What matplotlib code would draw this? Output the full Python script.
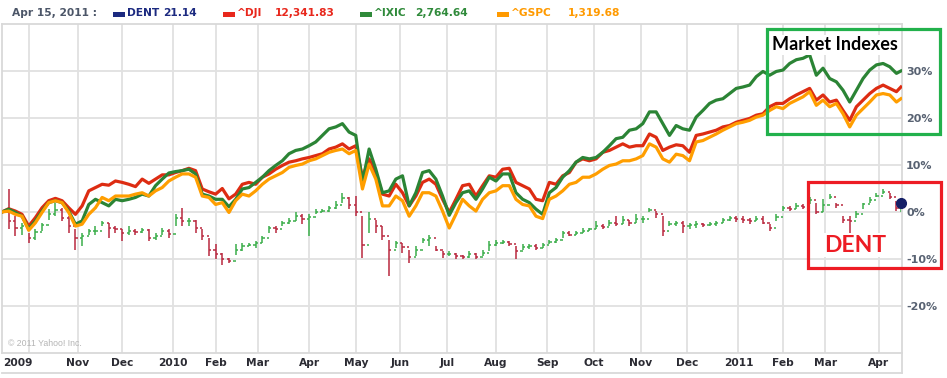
import matplotlib
matplotlib.use('Agg')
import matplotlib.pyplot as plt
import matplotlib.transforms as mtransforms
from matplotlib.patches import Rectangle
from matplotlib.lines import Line2D
import numpy as np

# ---------------- data (percent change since start, trading-day index) ----------------
days = np.r_[np.arange(0, 403, 3), 404]

dji = [0.0, 0.7, 0.2, -0.5, -3.0, -1.2, 0.9, 2.4, 2.9, 2.4, 0.9, -0.5, 1.3, 4.5, 5.2, 5.9, 5.7, 6.6, 6.3, 5.9,
       5.4, 7.0, 6.1, 7.0, 7.9, 7.9, 8.4, 8.8, 9.3, 8.8, 4.9, 4.3, 3.8, 5.0,
       2.8,
       3.8, 5.9, 6.3, 5.9, 7.4, 8.1, 9.1, 9.9, 10.6, 10.9, 11.3, 11.6, 12.0, 12.4, 13.4, 13.8, 14.5, 13.4, 14.1, 7.4,
       11.3, 8.4, 3.8, 3.4, 5.9, 4.1, 1.3, 3.4, 6.3, 7.0, 5.9, 2.7,
       -0.1,
       2.7, 5.6, 5.9, 3.4, 5.6, 7.7, 7.4, 9.1, 9.3, 6.3, 5.6, 4.9, 2.7, 2.4, 6.3, 5.9, 7.7, 8.4, 10.6, 11.3,
       10.9, 11.3, 12.7, 13.1, 13.8, 14.5, 13.8, 14.1, 14.1, 16.6, 15.9, 13.1, 13.8,
       14.3,
       14.1, 12.7, 16.3, 16.6, 17.0, 17.4, 18.1, 18.4, 19.1, 19.5, 19.9, 20.6, 20.9, 22.4, 23.1, 23.1, 24.1, 24.9,
       25.6, 26.3, 23.8, 24.9, 23.4, 23.8, 21.6, 19.5, 22.4, 23.8, 25.2, 26.3, 27.0, 26.3, 25.6,
       26.6]

ixic = [0.0, 0.6, -0.1, -0.9, -3.6, -1.9, 0.2, 2.0, 2.4, 2.0, 0.2, -2.6, -1.9, 1.6, 2.7, 2.0, 1.3, 2.7, 2.4, 2.7,
        3.1, 3.8, 3.4, 5.6, 7.0, 8.3, 8.6, 8.8, 9.1, 8.1, 3.8, 3.4, 2.7, 2.7,
        1.1,
        2.7, 4.9, 5.2, 6.3, 7.4, 8.8, 9.9, 10.9, 12.4, 13.1, 13.4, 14.1, 14.9, 16.3, 17.7, 18.1, 18.8, 17.0, 16.3, 6.3,
        13.4, 9.1, 4.1, 4.5, 7.0, 7.7, 1.3, 4.1, 8.4, 8.8, 7.0, 3.4,
        -0.7,
        2.0, 4.1, 4.5, 2.7, 4.9, 7.4, 6.6, 8.1, 8.1, 4.1, 2.7, 2.0, 0.6, -0.5, 4.1, 5.2, 7.4, 8.8, 10.6, 11.6,
        11.3, 11.6, 12.7, 14.1, 15.6, 15.9, 17.4, 17.7, 18.8, 21.3, 21.3, 18.8, 16.3,
        18.4,
        17.7, 17.4, 20.2, 21.6, 23.1, 23.8, 24.1, 25.2, 26.3, 26.6, 27.0, 28.8, 29.9, 29.1, 29.9, 30.2, 31.6, 32.4,
        32.7, 33.4, 29.1, 30.6, 28.4, 27.7, 25.9, 23.4, 25.9, 28.4, 30.2, 31.3, 31.6, 30.9, 29.5,
        30.0]

gspc = [0.0, 0.2, -0.5, -0.9, -3.9, -2.3, -0.1, 2.0, 2.4, 2.0, -0.1, -3.0, -2.6, -0.5, 0.9, 3.1, 2.4, 3.4, 3.4, 3.4,
        3.8, 4.1, 3.4, 4.5, 5.2, 6.6, 7.4, 8.1, 8.1, 7.4, 3.4, 3.1, 1.6, 2.0,
        -0.1,
        2.4, 3.8, 3.4, 4.5, 5.9, 7.0, 7.7, 8.4, 9.5, 9.9, 10.2, 10.9, 11.3, 12.0, 12.7, 13.1, 13.4, 12.4, 13.1, 4.9,
        10.2, 7.0, 1.3, 1.3, 3.4, 2.4, -0.9, 1.3, 4.1, 4.1, 3.4, 0.2,
        -3.4,
        -0.5, 2.7, 1.3, 0.2, 2.7, 4.1, 4.5, 5.6, 5.6, 2.7, 1.6, 1.3, -0.9, -1.4, 2.7, 3.4, 4.5, 5.9, 6.3, 7.4,
        7.4, 8.1, 9.1, 9.9, 10.2, 10.9, 10.9, 11.3, 12.0, 14.5, 13.8, 11.3, 10.6,
        12.3,
        12.0, 10.9, 14.9, 15.2, 15.9, 16.6, 17.4, 18.1, 18.8, 19.1, 19.5, 20.2, 20.6, 21.6, 22.4, 22.0, 23.1, 23.8,
        24.5, 25.6, 22.7, 23.8, 22.4, 23.1, 20.9, 18.1, 20.6, 22.0, 23.4, 24.9, 25.2, 24.9, 23.4,
        24.1]

dent_low = [-1.5, -3.6, -5.1, -4.8, -6.6, -5.9, -4.1, -1.6, -0.9, -1.9, -4.4, -8.0, -7.3, -4.8, -4.8, -3.0, -5.5,
            -4.4, -6.2, -4.8, -4.8, -4.4, -6.2, -5.9, -4.8, -5.5, -3.0, -3.0, -3.0, -4.4, -5.9, -9.4, -10.1,
            -11.2, -10.9, -9.1, -8.4, -7.3, -7.6, -6.6, -4.4, -4.4, -3.0, -2.6, -1.9,
            -2.6, -5.1, -0.5, -0.1, -0.1, 0.6, 2.0, 0.6, -0.9, -9.8, -4.4, -4.4, -5.9, -13.7, -7.6, -8.7, -10.9,
            -9.4, -6.6, -7.3, -8.4, -9.8, -9.4,
            -10.1, -10.1, -9.8, -10.1, -9.4, -8.4, -7.3, -6.9, -7.3, -10.0, -8.0, -7.9, -8.0, -7.6, -6.9, -6.6,
            -5.5, -5.1, -4.8, -4.4, -4.1, -3.7, -3.7, -3.0, -3.0, -2.6, -3.0, -2.3, -2.3, -0.1, -1.2, -5.1, -3.0,
            -3.0,
            -4.4, -3.7, -3.4, -3.1, -3.0, -3.0, -2.3, -1.9, -2.1, -2.3, -2.6, -1.9, -2.6, -4.1, -1.9, 0.2, 0.2,
            0.6, 0.6, 1.6, -0.5, -0.1, 2.7, 0.9, -2.3, -4.4, -1.2, 0.6, 2.0, 3.1, 3.8, 2.7, 0.2,
            0.0]

dent_high = [0.5, 4.9, -0.9, -2.3, -4.4, -3.7, -2.3, 0.6, 2.0, 0.9, -0.9, -3.7, -4.4, -3.7, -3.0, -1.9, -2.3,
             -3.0, -3.7, -3.0, -3.7, -3.4, -3.7, -4.4, -3.4, -3.7, -0.5, 0.9, -1.2, -1.6, -3.7, -5.5, -6.9,
             -8.7, -9.8, -6.9, -6.6, -6.6, -6.2, -5.1, -3.0, -3.0, -1.9, -1.2, -0.1,
             -0.5, -0.5, 0.6, 0.6, 1.3, 2.4, 4.1, 3.1, 3.4, -0.9, -0.1, -1.6, -3.0, -5.9, -6.2, -6.6, -8.0,
             -7.3, -5.5, -4.8, -7.3, -8.4, -8.4,
             -8.7, -9.1, -8.4, -8.7, -8.0, -6.2, -5.9, -5.9, -6.2, -7.3, -6.9, -6.9, -6.9, -6.6, -5.9, -5.5,
             -4.1, -4.1, -4.1, -3.4, -3.4, -1.9, -2.6, -1.6, -0.9, -0.9, -1.6, -0.5, -0.9, 0.9, 0.2, -0.9, -1.9,
             -1.9,
             -1.9, -2.3, -1.9, -2.3, -2.1, -1.9, -1.2, -0.9, -0.9, -0.9, -1.2, -0.9, -0.9, -2.6, -0.5, 1.3, 1.3,
             2.0, 1.6, 3.1, 2.0, 2.7, 3.8, 2.0, -0.9, -0.9, 0.2, 2.0, 3.1, 4.1, 4.9, 4.1, 2.4,
             2.4]

dent_close = [0.0, -2.0, -3.5, -3.0, -5.5, -4.3, -2.8, -0.5, 0.5, -1.2, -3.0, -5.5, -5.2, -4.1, -4.0, -2.3, -3.5,
              -3.6, -4.5, -4.0, -4.3, -3.8, -5.5, -5.0, -4.0, -4.6, -1.2, -2.0, -2.0, -3.5, -5.0, -8.0, -9.0,
              -10.0, -10.4, -8.0, -7.3, -7.0, -6.6, -5.6, -3.4, -3.7, -2.3, -2.0, -0.9,
              -1.5, -1.0, 0.0, 0.3, 0.8, 1.5, 3.0, 1.5, 0.0, -7.0, -1.5, -3.0, -5.0, -8.0, -6.6, -7.5, -9.5,
              -8.0, -6.0, -5.5, -8.0, -9.0, -9.0,
              -9.4, -9.6, -9.0, -9.5, -8.7, -7.0, -6.6, -6.3, -6.9, -8.3, -7.5, -7.3, -7.6, -7.0, -6.3, -6.0,
              -4.5, -4.8, -4.5, -4.0, -3.7, -3.0, -3.2, -2.3, -2.5, -1.6, -2.4, -1.5, -1.4, 0.5, -0.5, -4.0, -2.5,
              -2.3,
              -3.0, -2.8, -2.6, -2.7, -2.5, -2.3, -1.6, -1.3, -1.5, -1.8, -2.0, -1.4, -2.3, -3.5, -1.0, 0.8, 0.6,
              1.3, 1.0, 2.5, -0.1, 1.5, 3.2, 1.4, -1.7, -2.0, -0.5, 1.6, 2.5, 3.5, 4.3, 3.2, 0.8,
              2.0]

month_starts = [12, 34, 54, 77, 96, 115, 138, 159, 179, 200, 222, 245, 266, 287, 308, 331, 351, 370, 394]
month_labels = ['2009', 'Nov', 'Dec', '2010', 'Feb', 'Mar', 'Apr', 'May', 'Jun', 'Jul', 'Aug', 'Sep',
                'Oct', 'Nov', 'Dec', '2011', 'Feb', 'Mar', 'Apr']
pct_ticks = [-20, -10, 0, 10, 20, 30]

legend_items = [('DENT', '21.14', '#1c2a80'), ('^DJI', '12,341.83', '#e8271c'),
                ('^IXIC', '2,764.64', '#2f8a3a'), ('^GSPC', '1,319.68', '#ff9a00')]

# ---------------- figure ----------------
W, H = 947, 378
fig = plt.figure(figsize=(W / 100, H / 100), dpi=100)
fig.patch.set_facecolor('white')

def fx(px):
    return px / W

def fy(py):
    return 1 - py / H

ax = fig.add_axes([fx(2), fy(353), fx(902) - fx(2), fy(24) - fy(353)])
ax.set_xlim(0, 404.5)
ax.set_ylim(-30, 40)

grid_c = '#e1e1e1'
ax.set_axisbelow(True)
ax.set_xticks(month_starts)
ax.set_xticklabels([])
ax.set_yticks(pct_ticks)
ax.yaxis.tick_right()
ax.set_yticklabels([f'{v}%' for v in pct_ticks])
ax.tick_params(axis='x', length=0)
ax.tick_params(axis='y', length=0, pad=3, labelsize=8, labelcolor='#586272')
for lab in ax.get_yticklabels():
    lab.set_fontweight('bold')
ax.grid(True, color=grid_c, lw=1.3)
for s in ax.spines.values():
    s.set_color('#d9d9d9')
    s.set_linewidth(1.3)

# DENT OHLC-style bars
dl = np.array(dent_low)
dh = np.array(dent_high)
dc = np.array(dent_close)
do = np.r_[0.0, dc[:-1]]
cols = np.where(dc >= do, '#3aae4a', '#b9283f')
ax.vlines(days, dl, dh, colors=cols, lw=1.1, zorder=2)
ax.hlines(do, days - 1.0, days, colors=cols, lw=1.1, zorder=2)
ax.hlines(dc, days, days + 1.0, colors=cols, lw=1.1, zorder=2)
ax.plot([days[-1]], [dc[-1]], marker='o', ms=7, color='#141e66', zorder=6, clip_on=False)

# Index lines
ax.plot(days, dji, color='#dd2c12', lw=2.3, solid_joinstyle='round', zorder=3)
ax.plot(days, ixic, color='#2b8435', lw=2.3, solid_joinstyle='round', zorder=3)
ax.plot(days, gspc, color='#ff9e00', lw=2.3, solid_joinstyle='round', zorder=3)

# month labels
trans = mtransforms.blended_transform_factory(ax.transData, ax.transAxes)
for i, (m, lab) in enumerate(zip(month_starts, month_labels)):
    if i == 0:
        ax.text(0.5, -0.031, lab, transform=trans, ha='left', va='center', fontsize=7.7,
                fontweight='bold', color='#2b2b33')
    else:
        ax.text(m, -0.031, lab, transform=trans, ha='center', va='center', fontsize=7.7,
                fontweight='bold', color='#2b2b33')

# bottom band lines
fig.add_artist(Line2D([fx(2), fx(902)], [fy(373), fy(373)], color='#d9d9d9', lw=1.3,
                      transform=fig.transFigure))
fig.add_artist(Line2D([fx(902), fx(902)], [fy(353), fy(373)], color='#d9d9d9', lw=1.3,
                      transform=fig.transFigure))

# copyright
fig.text(fx(8), fy(343), '\u00a9 2011 Yahoo! Inc.', fontsize=6.3, color='#b5b5b5',
         family='Liberation Sans', va='center', ha='left')

# header
hy = fy(13)
fig.text(fx(12), hy, 'Apr 15, 2011 :', fontsize=7.7, fontweight='bold', color='#4c5668',
         va='center', ha='left')
sq_x = [113, 223, 360, 497]
name_x = [127, 237, 374, 511]
val_x = [163, 275, 415, 568]
for (name, val, c), sx, nx, vx in zip(legend_items, sq_x, name_x, val_x):
    fig.add_artist(Rectangle((fx(sx), fy(17)), 12 / W, 5 / H, facecolor=c, edgecolor='none',
                             transform=fig.transFigure))
    fig.text(fx(nx), hy, name, fontsize=7.7, fontweight='bold', color=c, va='center', ha='left')
    fig.text(fx(vx), hy, val, fontsize=7.7, fontweight='bold', color=c, va='center', ha='left')

# annotation boxes
fig.add_artist(Rectangle((fx(767), fy(134)), (940 - 767) / W, (134 - 29) / H, facecolor='none',
                         edgecolor='#22b14c', lw=2.3, transform=fig.transFigure, zorder=10))
fig.add_artist(Rectangle((fx(808), fy(268)), (941 - 808) / W, (268 - 182) / H, facecolor='none',
                         edgecolor='#ed1c24', lw=2.3, transform=fig.transFigure, zorder=10))
fig.text(fx(772), fy(45), 'Market Indexes', family='Lato', fontweight='bold', fontsize=13,
         color='black', va='center', ha='left', zorder=11,
         bbox=dict(facecolor='white', edgecolor='none', pad=1))
fig.text(fx(824), fy(245), 'DENT', family='Lato', fontweight='bold', fontsize=16.5,
         color='#ed1c24', va='center', ha='left', zorder=11,
         bbox=dict(facecolor='white', edgecolor='none', pad=1))

fig.savefig('out.png', dpi=100, facecolor='white')
